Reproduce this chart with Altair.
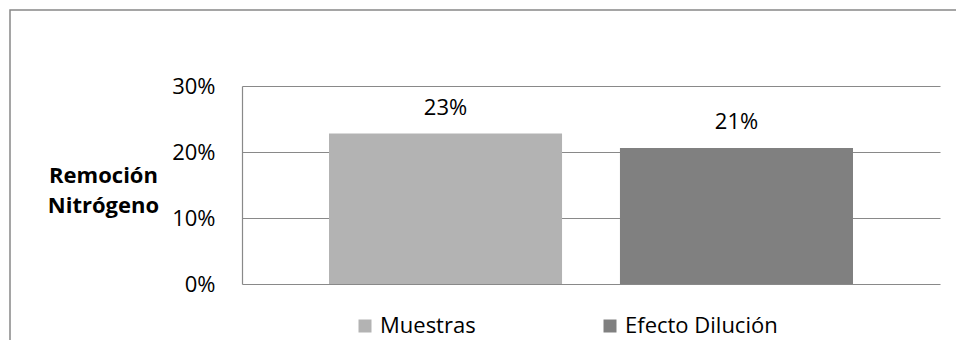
import altair as alt
import pandas as pd

series = ["Muestras", "Efecto Dilución"]
values = [0.228, 0.206]
colors = ["#B3B3B3", "#808080"]
y_ticks = [0, 0.1, 0.2, 0.3]
y_title = ["Remoción", "Nitrógeno"]

df = pd.DataFrame({"serie": series, "valor": values})

FONT = "Open Sans"
GRID = "#898989"

base = alt.Chart(df)

bars = base.mark_bar().encode(
    x=alt.X("serie:N", sort=series, axis=None,
            scale=alt.Scale(paddingInner=0.199, paddingOuter=0.299)),
    y=alt.Y("valor:Q",
            scale=alt.Scale(domain=[0, 0.3], nice=False),
            axis=alt.Axis(values=y_ticks, format=".0%", title=y_title,
                          titleAngle=0, titleAlign="center", titleBaseline="alphabetic",
                          titleX=-139, titleY=96, titleLineHeight=30.5,
                          titleFont=FONT, titleFontSize=22, titleFontWeight="bold",
                          titleColor="black",
                          labelFont=FONT, labelFontSize=22, labelColor="black",
                          labelPadding=27, ticks=False, tickSize=0,
                          grid=True, gridColor=GRID, gridWidth=1.2,
                          domain=True, domainColor=GRID, domainWidth=1.2)),
    color=alt.Color("serie:N", sort=series,
                    scale=alt.Scale(domain=series, range=colors),
                    legend=alt.Legend(orient="none", legendX=112, legendY=229,
                                      direction="horizontal", columns=2,
                                      gridAlign="all", columnPadding=66,
                                      title=None, symbolType="square",
                                      symbolSize=169, symbolStrokeWidth=0,
                                      labelFont=FONT, labelFontSize=22,
                                      labelColor="black", labelOffset=4)),
)

labels = base.mark_text(font=FONT, fontSize=22, color="black",
                        baseline="alphabetic", dy=-19).encode(
    x=alt.X("serie:N", sort=series),
    y=alt.Y("valor:Q"),
    text=alt.Text("valor:Q", format=".0%"),
)

border = alt.Chart(alt.Data(values=[{}])).mark_rect(
    fill=None, stroke="#888888", strokeWidth=1.5, clip=False
).encode(
    x=alt.value(-232), x2=alt.value(730),
    y=alt.value(-76), y2=alt.value(270),
)

chart = alt.layer(border, bars, labels).properties(
    width=698, height=198,
    autosize=alt.AutoSizeParams(type="none"),
    padding={"left": 242, "top": 86, "right": 16, "bottom": 56},
    background="white",
).configure_view(stroke=None)

chart.save("out.html", embed_options={"renderer": "svg", "actions": False})
